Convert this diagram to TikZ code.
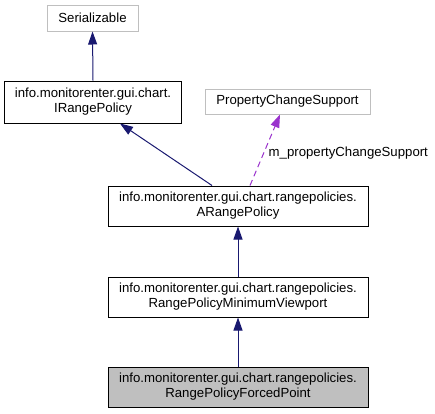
\documentclass[tikz,border=0pt]{standalone}
\usepackage{fontspec}
\setmainfont{Liberation Sans}
\usetikzlibrary{arrows.meta}
\definecolor{edgeblue}{HTML}{191970}
\definecolor{edgepurple}{HTML}{9A32CD}
\definecolor{boxgray}{HTML}{BFBFBF}
\definecolor{fillgray}{HTML}{BFBFBF}
\tikzset{
  cls/.style={draw=black, line width=1pt, fill=white, inner sep=0pt, align=center,
    font=\fontsize{13.2}{15}\selectfont},
  extcls/.style={cls, draw=boxgray},
  inh/.style={draw=edgeblue, line width=1pt, -{Triangle[length=13pt,width=9pt]}},
  use/.style={draw=edgepurple, line width=1pt, dash pattern=on 6pt off 4pt,
    -{Triangle[length=13pt,width=9pt]}},
  lbl/.style={font=\fontsize{13.2}{15}\selectfont, inner sep=0pt}
}
\begin{document}
\begin{tikzpicture}[x=1pt,y=-1pt]
\useasboundingbox (0,0) rectangle (435,413);
\node[extcls, minimum width=91pt, minimum height=26pt] (ser) at (92.5,18) {Serializable};
\node[cls, minimum width=177pt, minimum height=42pt] (irp) at (93,102) {info.monitorenter.gui.chart.\\IRangePolicy};
\node[extcls, minimum width=165pt, minimum height=25pt] (pcs) at (287.5,101.5) {PropertyChangeSupport};
\node[cls, minimum width=260pt, minimum height=40pt] (arp) at (238,206) {info.monitorenter.gui.chart.rangepolicies.\\ARangePolicy};
\node[cls, minimum width=260pt, minimum height=40pt] (rpmv) at (238,297) {info.monitorenter.gui.chart.rangepolicies.\\RangePolicyMinimumViewport};
\node[cls, fill=fillgray, minimum width=260pt, minimum height=40pt] (rpfp) at (238,387) {info.monitorenter.gui.chart.rangepolicies.\\RangePolicyForcedPoint};
\draw[inh] (irp.north) -- (ser.south);
\draw[inh] ([xshift=-26pt]arp.north) -- ([xshift=27pt]irp.south);
\draw[use] ([xshift=12pt]arp.north) -- ([xshift=-7.5pt]pcs.south);
\node[lbl, anchor=west] (lab) at (268.5,153) {m\_propertyChangeSupport};
\draw[inh] (rpmv.north) -- (arp.south);
\draw[inh] (rpfp.north) -- (rpmv.south);
\end{tikzpicture}
\end{document}
